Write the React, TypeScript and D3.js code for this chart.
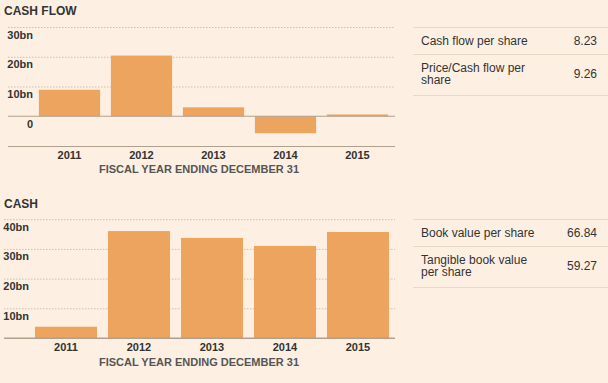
import React from "react";
import * as d3 from "d3";

const years = ["2011", "2012", "2013", "2014", "2015"];
const cashFlow = [8.9, 20.4, 3.0, -5.7, 0.6];
const cash = [3.8, 36.0, 33.7, 31.0, 35.7];
const cashFlowTicks = [30, 20, 10, 0];
const cashTicks = [40, 30, 20, 10];
const table1Labels = [["Cash flow per share"], ["Price/Cash flow per", "share"]];
const table1Values = ["8.23", "9.26"];
const table2Labels = [["Book value per share"], ["Tangible book value", "per share"]];
const table2Values = ["66.84", "59.27"];

const BG = "#fdf0e2";
const BAR = "#eda45e";
const AXIS = "#b0a08e";
const GRID = "#cdbfae";
const FONT = "Arial, 'Liberation Sans', sans-serif";

function Chart({ title, values, ticks, domain, yRange, xRange, labelRight, zeroAt, axisLeft, yearY, fiscalY, titleY }) {
  const x = d3.scaleBand().domain(years).range(xRange).paddingInner(0.15).paddingOuter(0.075);
  const y = d3.scaleLinear().domain(domain).range(yRange);
  return (
    <g>
      <text x={4} y={titleY} fontFamily={FONT} fontSize={12} fontWeight="bold" fill="#333">{title}</text>
      {ticks.map((t) => (
        <g key={t}>
          {t !== zeroAt && (
            <line x1={axisLeft} x2={395} y1={y(t) + 0.5} y2={y(t) + 0.5} stroke={GRID} strokeDasharray="1.5,1.5" />
          )}
          <text x={labelRight} y={y(t) + 11.5} textAnchor="end" fontFamily={FONT} fontSize={11} fontWeight="bold" fill="#333">
            {t === 0 ? "0" : `${t}bn`}
          </text>
        </g>
      ))}
      {values.map((v, i) => (
        <rect key={years[i]} x={x(years[i])} width={x.bandwidth()} y={y(Math.max(0, v))} height={Math.abs(y(v) - y(0))} fill={BAR} />
      ))}
      <line x1={axisLeft} x2={395} y1={y(0)} y2={y(0)} stroke={AXIS} strokeWidth={1} />
      <line x1={axisLeft} x2={395} y1={yRange[0] + 0.5} y2={yRange[0] + 0.5} stroke={AXIS} strokeWidth={1} />
      {years.map((yr) => (
        <text key={yr} x={x(yr) + x.bandwidth() / 2} y={yearY} textAnchor="middle" fontFamily={FONT} fontSize={11} fontWeight="bold" fill="#333">{yr}</text>
      ))}
      <text x={199} y={fiscalY} textAnchor="middle" fontFamily={FONT} fontSize={11} fontWeight="bold" fill="#555">FISCAL YEAR ENDING DECEMBER 31</text>
    </g>
  );
}

function Table({ labels, values, lineYs, textYs }) {
  return (
    <g fontFamily={FONT} fontSize={12} fill="#333">
      {lineYs.map((ly, i) => (
        <line key={i} x1={413} x2={608} y1={ly + 0.5} y2={ly + 0.5} stroke="#e8d9c6" />
      ))}
      {labels.map((lines, i) => (
        <g key={i}>
          {lines.map((l, j) => (
            <text key={j} x={421} y={textYs[i] - (lines.length - 1) * 6.3 + j * 12.6 + 4}>{l}</text>
          ))}
          <text x={597} y={textYs[i] + 4} textAnchor="end">{values[i]}</text>
        </g>
      ))}
    </g>
  );
}

export default function App() {
  return (
    <svg width={608} height={383} style={{ position: "absolute", left: 0, top: 0, background: BG }}>
      <rect width={608} height={383} fill={BG} />
      <Chart
        title="CASH FLOW"
        values={cashFlow}
        ticks={cashFlowTicks}
        domain={[-10, 30]}
        yRange={[146, 27]}
        xRange={[33.5, 393.5]}
        labelRight={33}
        zeroAt={0}
        axisLeft={8}
        yearY={158.5}
        fiscalY={173}
        titleY={15}
      />
      <Chart
        title="CASH"
        values={cash}
        ticks={cashTicks}
        domain={[0, 40]}
        yRange={[338, 219.2]}
        xRange={[29.5, 394.5]}
        labelRight={29}
        zeroAt={0}
        axisLeft={4}
        yearY={351}
        fiscalY={366}
        titleY={208}
      />
      <Table labels={table1Labels} values={table1Values} lineYs={[27, 54, 95]} textYs={[41, 74]} />
      <Table labels={table2Labels} values={table2Values} lineYs={[219, 246, 287]} textYs={[233, 266]} />
    </svg>
  );
}
